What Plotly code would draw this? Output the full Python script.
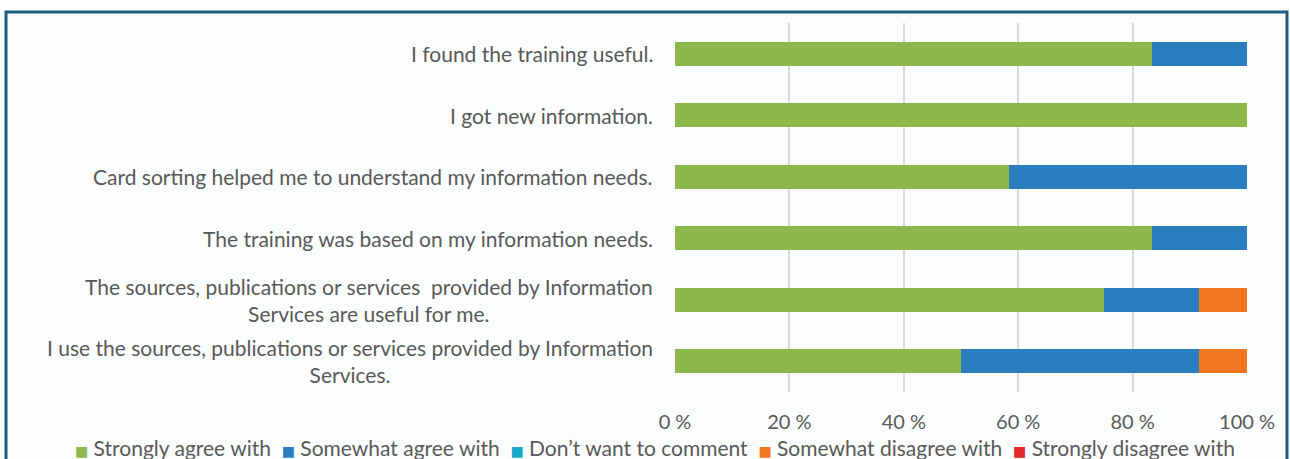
import plotly.graph_objects as go

categories = [
    "I found the training useful.",
    "I got new information.",
    "Card sorting helped me to understand my information needs.",
    "The training was based on my information needs.",
    "The sources, publications or services  provided by Information<br>Services are useful for me.",
    "I use the sources, publications or services provided by Information<br>Services.",
]
series_names = [
    "Strongly agree with",
    "Somewhat agree with",
    "Don\u2019t want to comment",
    "Somewhat disagree with",
    "Strongly disagree with",
]
strongly_agree = [83.33, 100.0, 58.33, 83.33, 75.0, 50.0]
somewhat_agree = [16.67, 0.0, 41.67, 16.67, 16.67, 41.67]
no_comment = [0, 0, 0, 0, 0, 0]
somewhat_disagree = [0, 0, 0, 0, 8.33, 8.33]
strongly_disagree = [0, 0, 0, 0, 0, 0]
tick_vals = [0, 20, 40, 60, 80, 100]
tick_text = ["0 %", "20 %", "40 %", "60 %", "80 %", "100 %"]

colors = ["#8DB84C", "#2A7EC0", "#1BA9C9", "#F07624", "#E0272A"]
values = [strongly_agree, somewhat_agree, no_comment, somewhat_disagree, strongly_disagree]

FONT = "Lato"
TXT = "#595959"
LBL_SIZE = 21

fig = go.Figure()
for name, vals, col in zip(series_names, values, colors):
    fig.add_trace(go.Bar(
        y=categories, x=vals, name=name, orientation="h",
        marker=dict(color=col, line=dict(width=0)),
        showlegend=False,
    ))

W, H = 1290, 459
L, R, T, B = 675, 43, 23, 67
pw, ph = W - L - R, H - T - B

def px_x(p):
    return (p - L) / pw

def px_y(p):
    return (H - B - p) / ph

for cat in categories:
    fig.add_annotation(
        x=px_x(655), xref="paper", y=cat, yref="y",
        text=cat, showarrow=False, xanchor="right", align="center",
        font=dict(family=FONT, size=LBL_SIZE, color=TXT),
    )

# legend built as one line of real text with coloured squares
nb = "\u00a0"
parts = []
for name, col in zip(series_names, colors):
    parts.append(f'<span style="font-family:DejaVu Sans;font-size:14px;color:{col}">\u25a0</span>{nb}{name}')
legend_text = (nb * 2).join(parts)
fig.add_annotation(
    x=px_x(655), xref="paper", y=px_y(447), yref="paper",
    text=legend_text, showarrow=False, xanchor="center", yanchor="middle",
    font=dict(family=FONT, size=LBL_SIZE, color=TXT),
)

fig.add_shape(
    type="rect", xref="paper", yref="paper",
    x0=px_x(6), x1=px_x(1287), y0=px_y(475), y1=px_y(12),
    line=dict(color="#1D5A80", width=3), fillcolor="#FBFDFC", layer="below",
)

fig.update_layout(
    width=W, height=H,
    barmode="stack", bargap=0.61,
    margin=dict(l=L, r=R, t=T, b=B, autoexpand=False),
    paper_bgcolor="white", plot_bgcolor="rgba(0,0,0,0)",
    font=dict(family=FONT, size=LBL_SIZE, color=TXT),
    showlegend=False,
    xaxis=dict(
        range=[0, 100], tickvals=tick_vals, ticktext=tick_text,
        showgrid=True, gridcolor="#D9D9D9", gridwidth=1.5,
        zeroline=False, showline=False, ticks="", ticklabelstandoff=16,
        tickfont=dict(family=FONT, size=20, color=TXT),
    ),
    yaxis=dict(
        autorange="reversed", showticklabels=False, showgrid=False,
        zeroline=False, showline=False, ticks="",
    ),
)

fig.write_html(
    "out.html",
    config={"displayModeBar": False},
    post_script="document.body.style.margin='0';document.body.style.overflow='hidden';",
)
